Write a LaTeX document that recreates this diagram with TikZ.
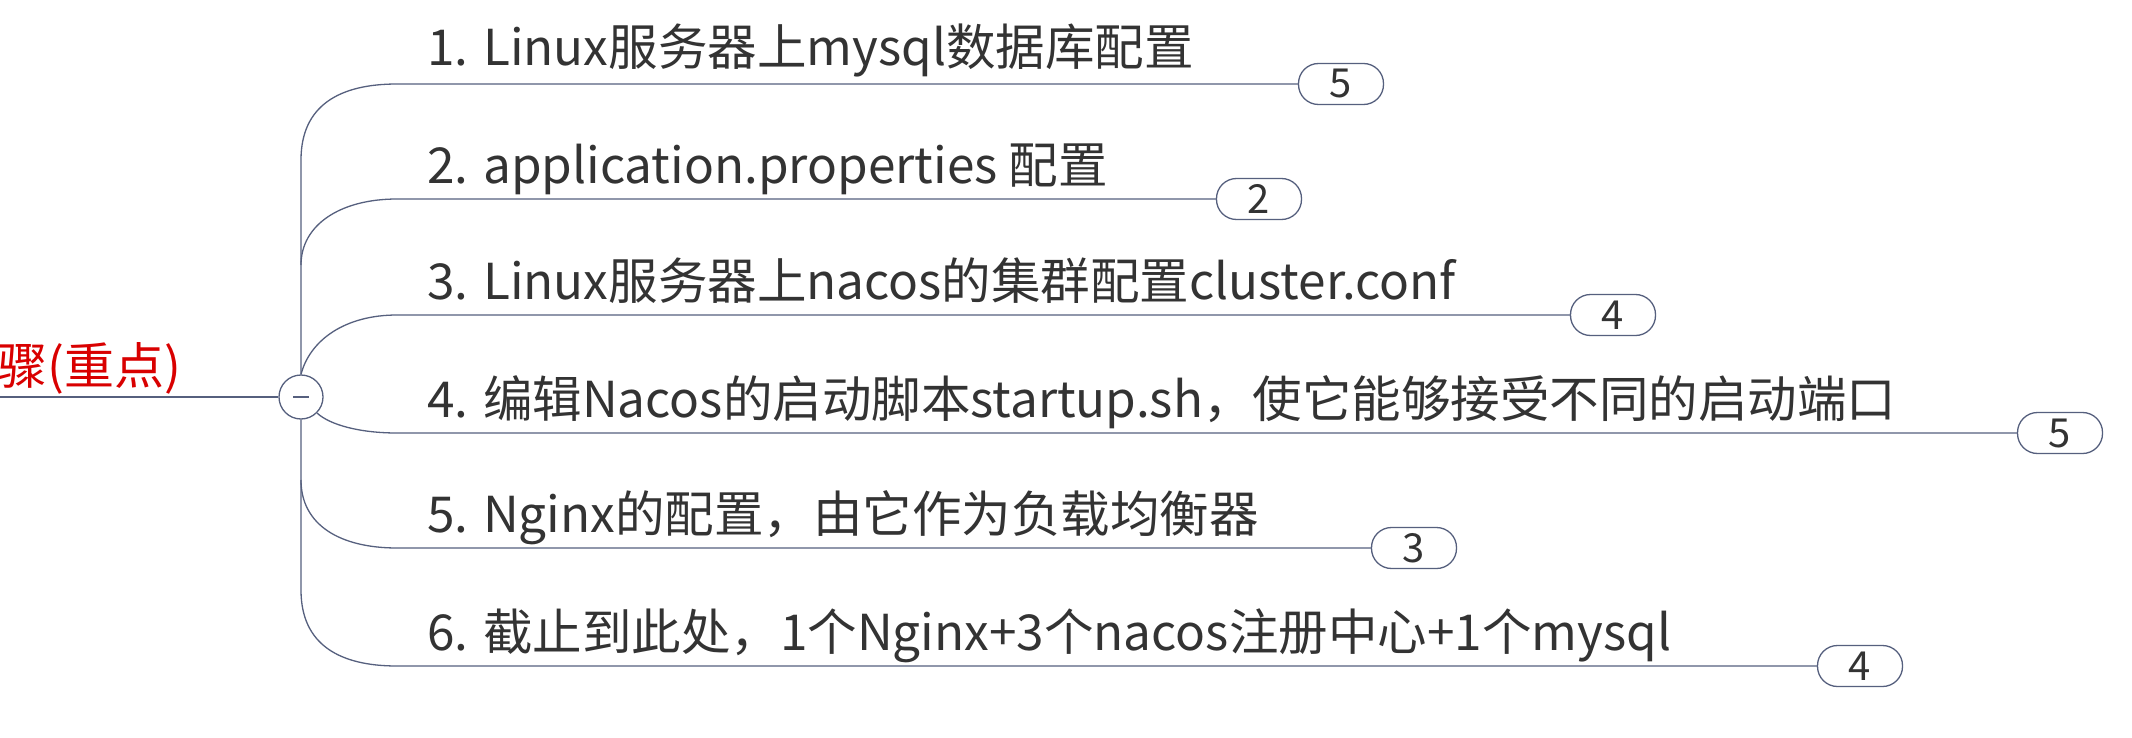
\documentclass[tikz,border=0pt]{standalone}
\usepackage{fontspec}
\setmainfont{Noto Sans CJK SC}
\definecolor{ln}{HTML}{56607E}
\definecolor{tx}{HTML}{333333}
\begin{document}
\begin{tikzpicture}[x=1pt,y=-1pt,
  br/.style={draw=ln,line width=1.3pt},
  lab/.style={anchor=base west,inner sep=0pt,text=tx,font=\fontsize{49.5}{52}\selectfont},
  badge/.style={draw=ln,line width=1.3pt,rectangle,rounded corners=20pt,minimum width=85pt,minimum height=41pt,inner sep=0pt,text=tx,font=\fontsize{40}{42}\selectfont}]
\fill[white] (0,0) rectangle (2132,738);
\useasboundingbox (0,0) rectangle (2132,738);
\node[anchor=base east,inner sep=0pt,text=red!85!black,font=\fontsize{50}{52}\selectfont] (root) at (182,384) {骤(重点)};
\node[circle,draw=ln,line width=1.3pt,minimum size=44pt,inner sep=0pt,fill=white] (c) at (301,397) {};
\draw[ln,line width=1.5pt] (293,397) -- (309,397);
\coordinate (r0) at (0,397);
\draw[br] (r0) -- (c.west);
% labels
\node[lab] (t1) at (427,66) {1. Linux服务器上mysql数据库配置};
\node[lab] (t2) at (427,183) {2. application.properties 配置};
\node[lab] (t3) at (427,299) {3. Linux服务器上nacos的集群配置cluster.conf};
\node[lab] (t4) at (427,417) {4. 编辑Nacos的启动脚本startup.sh，使它能够接受不同的启动端口};
\node[lab] (t5) at (427,532) {5. Nginx的配置，由它作为负载均衡器};
\node[lab] (t6) at (427,650) {6. 截止到此处，1个Nginx+3个nacos注册中心+1个mysql};
% badges
\node[badge] (b1) at (1341,84) {5};
\node[badge] (b2) at (1259,199) {2};
\node[badge] (b3) at (1613,315) {4};
\node[badge] (b4) at (2060,433) {5};
\node[badge] (b5) at (1414,548) {3};
\node[badge] (b6) at (1860,666) {4};
% trunk and branches
\draw[br] (c.north) -- (301,160) .. controls (301,105) and (340,84) .. (397,84) -- (b1.west);
\draw[br] (c.south) -- (301,590) .. controls (301,645) and (340,666) .. (397,666) -- (b6.west);
\draw[br] (301,265) .. controls (301,225) and (340,199) .. (397,199) -- (b2.west);
\draw[br] (c.north) .. controls (310,340) and (345,315) .. (397,315) -- (b3.west);
\draw[br] (c.south east) .. controls (330,425) and (360,433) .. (397,433) -- (b4.west);
\draw[br] (301,480) .. controls (301,525) and (340,548) .. (397,548) -- (b5.west);
\end{tikzpicture}
\end{document}
